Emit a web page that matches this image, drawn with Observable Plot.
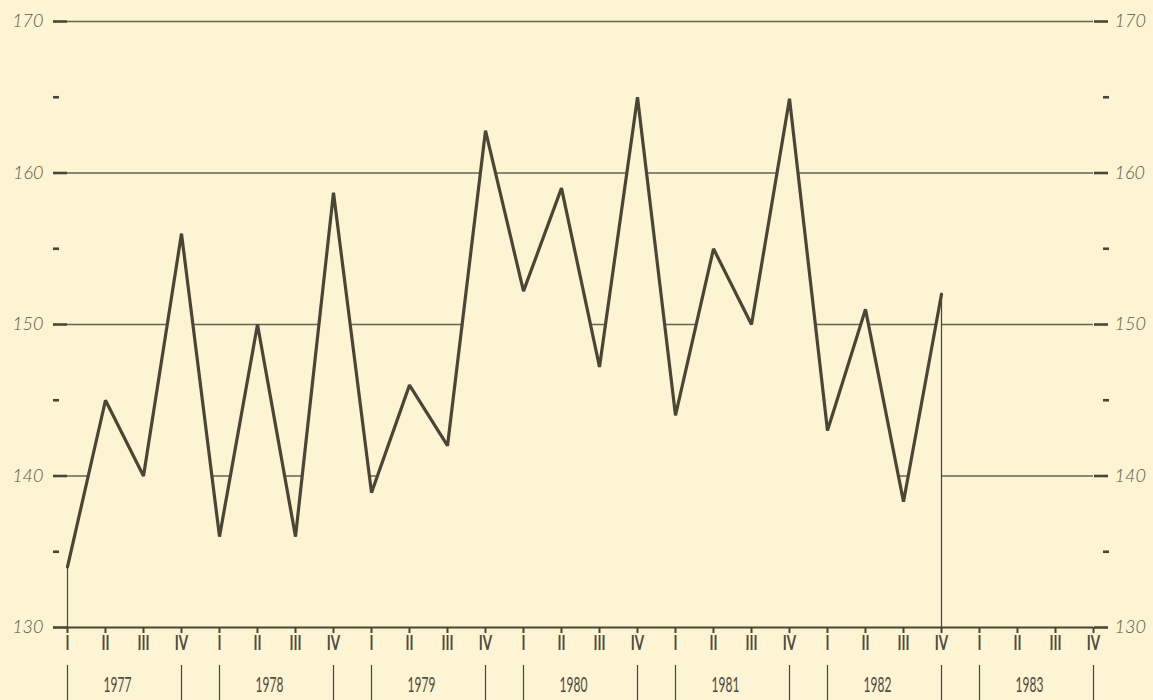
<!DOCTYPE html>
<html>
<head>
<meta charset="utf-8">
<script src="https://cdn.jsdelivr.net/npm/d3@7"></script>
<script src="https://cdn.jsdelivr.net/npm/@observablehq/plot@0.6"></script>
<style>
  html, body { margin: 0; padding: 0; background: #fcf4d3; }
  #chart { width: 1153px; height: 700px; overflow: hidden; }
</style>
</head>
<body>
<div id="chart"></div>
<script>
// ---- data ----
const years = [1977, 1978, 1979, 1980, 1981, 1982, 1983];
const quarterLabels = ["I", "II", "III", "IV"];
const values = [
  134, 145, 140, 156,      // 1977
  136, 150, 136, 158.7,    // 1978
  138.9, 146, 142, 162.8,  // 1979
  152.2, 159, 147.2, 165,  // 1980
  144, 155, 150, 164.9,    // 1981
  143, 151, 138.3, 152     // 1982
];
const yMajor = [130, 140, 150, 160, 170];
const yMinor = [135, 145, 155, 165];
const gridValues = [140, 150, 160, 170];

// ---- derived tables ----
const rows = values.map((v, i) => ({i, v}));
const quarters = [];
years.forEach((y, yi) => quarterLabels.forEach((q, qi) => quarters.push({i: yi * 4 + qi, q})));
const yearMid = years.map((y, yi) => ({i: yi * 4 + 1.5, y: String(y)}));
const yearBounds = years.flatMap((y, yi) => [yi * 4, yi * 4 + 3]);
const endpoints = [rows[0], rows[rows.length - 1]];

const bg = "#fcf4d3";
const ink = "#4a4535";
const gridInk = "#686250";

const chart = Plot.plot({
  width: 1153,
  height: 700,
  marginLeft: 67,
  marginRight: 60,
  marginTop: 21,
  marginBottom: 73,
  style: {background: bg, fontFamily: "Lato, 'Open Sans', sans-serif", overflow: "visible"},
  x: {domain: [0, quarters.length - 1], label: null},
  y: {domain: [130, 170], label: null},
  marks: [
    Plot.ruleY(gridValues, {stroke: gridInk, strokeWidth: 1.6}),
    Plot.areaY(rows, {x: "i", y1: 130, y2: "v", fill: bg}),
    Plot.ruleX(endpoints, {x: "i", y1: 130, y2: "v", stroke: ink, strokeWidth: 1.2}),
    Plot.ruleY([130], {stroke: ink, strokeWidth: 2}),
    Plot.axisY(yMajor, {anchor: "left", tickSize: 14, tickPadding: 10, strokeWidth: 2.6,
      color: ink, fill: "#5a5545", fontSize: 18, fontStyle: "italic", fontWeight: 300}),
    Plot.axisY(yMinor, {anchor: "left", tickSize: 6, dx: -8, strokeWidth: 2.6, text: null, color: ink}),
    Plot.axisY(yMajor, {anchor: "right", tickSize: 14, tickPadding: 7, strokeWidth: 2.6,
      color: ink, fill: "#5a5545", fontSize: 18, fontStyle: "italic", fontWeight: 300}),
    Plot.axisY(yMinor, {anchor: "right", tickSize: 6, dx: 9, strokeWidth: 2.6, text: null, color: ink}),
    Plot.axisX(quarters.map(d => d.i), {anchor: "bottom", tickSize: 6, strokeWidth: 2, text: null, color: ink}),
    Plot.text(quarters, {x: "i", text: "q", frameAnchor: "bottom", dy: 22, fontSize: 18,
      fontWeight: "bold", fill: "#4f4a3a"}),
    Plot.axisX(yearBounds, {anchor: "bottom", tickSize: 40, dy: 38, strokeWidth: 1.2, text: null, color: ink}),
    Plot.text(yearMid, {x: "i", text: "y", frameAnchor: "bottom", dy: 64, dx: -7, fontSize: 15,
      fill: "#4f4a3a"}),
    Plot.line(rows, {x: "i", y: "v", stroke: ink, strokeWidth: 3.2, strokeLinejoin: "miter"})
  ]
});

// narrow, tall lettering like the original's condensed type
function condense(group, sx, sy) {
  d3.select(group).selectAll("text").each(function () {
    const t = this.getAttribute("transform");
    if (t) {
      this.setAttribute("transform", t + ` scale(${sx},${sy})`);
    } else {
      const x = +this.getAttribute("x") || 0, y = +this.getAttribute("y") || 0;
      this.setAttribute("transform", `translate(${x},${y}) scale(${sx},${sy})`);
      this.setAttribute("x", 0); this.setAttribute("y", 0);
    }
  });
}
const textGroups = chart.querySelectorAll('g[aria-label="text"]');
if (textGroups.length >= 2) {
  condense(textGroups[0], 0.75, 1.2);
  condense(textGroups[1], 0.8, 1.4);
}

document.getElementById("chart").appendChild(chart);
</script>
</body>
</html>
